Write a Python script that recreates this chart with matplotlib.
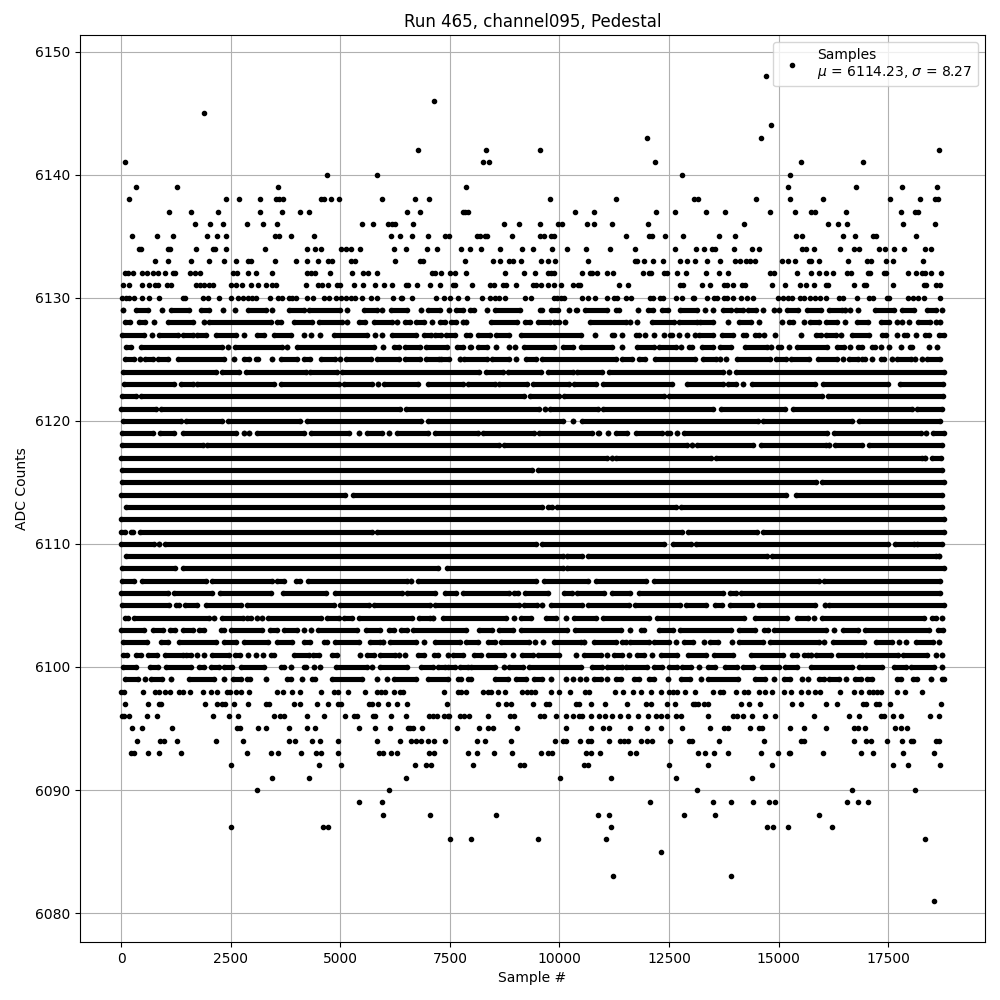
import matplotlib
matplotlib.use("Agg")
import matplotlib.pyplot as plt

title = "Run 465, channel095, Pedestal"
legend_label = "Samples\n$\\mu$ = 6114.23, $\\sigma$ = 8.27"

# isolated samples, sample number per ADC level
samples_6148 = [14704]
samples_6146 = [7136]
samples_6145 = [1880]
samples_6144 = [14818]
samples_6143 = [12003, 14591]
samples_6142 = [6772, 8319, 9547, 18661]
samples_6141 = [83, 8250, 8387, 12184, 15500, 16933]
samples_6140 = [4700, 5837, 12798, 15250]
samples_6139 = [334, 1273, 3585, 7864, 15205, 16774, 17820, 18616]
samples_6138 = [174, 2403, 2698, 3176, 3540, 3608, 3699, 4563, 4631, 4790, 4972, 5950, 6704, 7022, 9774, 11298, 13071, 13162, 14477, 15250, 16023, 17547, 18229, 18570, 18640]
samples_6137 = [1084, 1584, 2221, 3176, 3676, 4086, 4290, 6519, 6818, 7796, 7841, 7909, 10365, 10797, 12207, 12639, 13340, 13772, 14795, 15364, 15750, 15841, 16546, 17797, 18115, 18184]
samples_6136 = [1675, 2016, 2335, 2880, 3244, 3563, 5495, 5746, 6087, 6178, 6246, 6659, 8728, 9069, 9547, 9956, 10047, 10638, 10797, 11207, 12025, 14204, 16137, 16364, 16569, 17843, 18570]
samples_6135 = [243, 811, 1175, 1948, 2198, 2403, 3517, 3608, 3881, 4404, 6155, 6360, 6636, 7000, 7386, 7477, 8114, 8182, 8296, 8357, 8910, 9547, 9638, 9797, 9865, 11525, 12048, 12116, 12412, 12821, 13636, 14000, 15387, 15523, 16478, 16751, 17160, 17213, 18138]
samples_6134 = [402, 447, 1061, 1107, 1698, 2107, 2145, 2403, 3290, 4245, 4419, 4556, 5018, 5132, 5245, 5450, 6223, 6496, 6977, 7204, 7750, 7955, 8205, 8637, 9137, 9387, 9820, 10161, 10615, 11161, 11730, 12639, 13117, 13295, 13476, 13545, 13977, 14386, 14545, 15523, 15614, 15796, 16410, 16728, 16842, 17297, 17425, 17638, 17865, 18343, 18479]
samples_6133 = [781, 1061, 1584, 1994, 2357, 2630, 2903, 2971, 3517, 3995, 4245, 4495, 4722, 4813, 5245, 5336, 6246, 6818, 6886, 7841, 8478, 8637, 8842, 8933, 9115, 9569, 9729, 9888, 10661, 11730, 11775, 11934, 12139, 12366, 12753, 12912, 13094, 13363, 13658, 14000, 14113, 14250, 14340, 14454, 15068, 15205, 15364, 15682, 15750, 15910, 16592, 17024, 17115, 17455, 17615, 18297]
samples_6132 = [99, 167, 280, 470, 584, 720, 849, 993, 1175, 1236, 1561, 1675, 1789, 2562, 2653, 2903, 3085, 3449, 4245, 4336, 4427, 4768, 5268, 5518, 5632, 5837, 7091, 7159, 7295, 7500, 7614, 7864, 8751, 9183, 9433, 9729, 9797, 9865, 10524, 10706, 10752, 10865, 11093, 11229, 11912, 12048, 12093, 12389, 12457, 12685, 12889, 13340, 13636, 13840, 14795, 14886, 15409, 15750, 15932, 16091, 16250, 16570, 16660, 17046, 17092, 17410, 17455, 17956, 18138, 18275, 18343, 18479, 18707]
samples_6131 = [38, 190, 470, 629, 766, 841, 1038, 1129, 1698, 1789, 1880, 1994, 2107, 2517, 2630, 2767, 2971, 3131, 3312, 3449, 3540, 4222, 4495, 4586, 4722, 4927, 4995, 5313, 5518, 5791, 5996, 6178, 6496, 6545, 6750, 7045, 7273, 7568, 7614, 8000, 8410, 8500, 8705, 8773, 9000, 9387, 9456, 9569, 9729, 9865, 10024, 10320, 10433, 10479, 11366, 11570, 12753, 12821, 13250, 13430, 13750, 13818, 13954, 14159, 14227, 14841, 15136, 15477, 15614, 15796, 16091, 16137, 16728, 16955, 17000, 17615, 18320, 18365, 18593, 18684]
samples_6130 = [23, 114, 190, 303, 470, 644, 857, 1402, 1448, 1857, 1971, 2244, 2517, 2676, 2790, 2903, 2994, 3085, 3404, 3585, 3676, 3828, 3904, 3980, 4245, 4374, 4631, 4745, 4904, 5018, 5132, 5245, 5336, 5495, 5700, 5837, 6200, 6382, 6408, 6636, 7182, 7364, 7500, 7682, 7886, 8228, 8410, 8523, 8614, 8750, 9205, 9342, 9865, 9933, 10024, 10115, 10524, 10661, 10820, 11093, 11252, 11320, 11525, 11638, 12070, 12139, 12298, 12366, 12662, 12798, 13049, 13067, 13363, 13522, 13590, 13750, 13818, 13954, 14136, 14272, 14409, 14977, 15091, 15205, 15296, 15477, 15568, 15727, 15819, 15955, 16091, 16387, 16478, 16796, 17069, 17160, 17478, 17524, 17956, 18070, 18184, 18320, 18684]
samples_6098 = [0, 61, 493, 766, 857, 993, 1107, 1311, 1402, 1561, 1857, 2039, 2198, 2426, 2494, 2630, 2744, 2926, 3563, 3699, 3904, 4086, 4563, 4859, 4950, 5177, 5564, 5837, 5928, 6019, 6223, 6360, 6428, 7360, 7680, 7760, 7860, 8250, 8360, 8440, 8590, 8750, 9140, 9270, 9350, 9450, 9800, 10000, 10230, 10580, 10680, 11270, 11440, 11680, 11850, 12090, 12310, 12500, 12590, 12690, 12860, 13100, 13500, 13670, 13740, 14020, 14210, 14300, 14550, 14680, 14860, 15130, 15280, 15510, 15680, 15820, 15950, 16390, 16710, 16890, 17060, 17150, 17250, 17330, 17710, 17890, 18280]
samples_6097 = [83, 606, 857, 902, 1903, 2198, 2312, 2380, 2585, 2903, 3312, 3380, 3949, 4086, 4472, 4722, 4950, 5018, 5655, 5723, 5859, 6087, 6291, 6519, 7430, 8590, 8770, 8890, 9390, 9690, 9770, 10370, 10450, 10730, 11050, 11530, 11980, 12090, 12460, 12640, 13040, 13090, 13150, 13300, 13400, 14140, 14320, 14570, 15300, 15500, 16070, 16340, 16930, 16990, 17230, 17290, 17550, 18710]
samples_6096 = [15, 61, 174, 584, 811, 2107, 2471, 2676, 3494, 3630, 3722, 4245, 4631, 5109, 5313, 5382, 5746, 5791, 6155, 6496, 7020, 7110, 7200, 7360, 7450, 7490, 7730, 7830, 7930, 8360, 8870, 8970, 9550, 9650, 9930, 10160, 10300, 10450, 10510, 10710, 10900, 11050, 11210, 11370, 11570, 11800, 12030, 12210, 12310, 12460, 12660, 12780, 13390, 13950, 14060, 14180, 14390, 14700, 14910, 15800, 16610, 16840, 17340, 17400, 17620, 17800, 18460, 18660]
samples_6095 = [243, 470, 1152, 2653, 2721, 3131, 3312, 3835, 4245, 4427, 5427, 5791, 6132, 6541, 6600, 6670, 6860, 7660, 8160, 8360, 8480, 9020, 10160, 10730, 11000, 11120, 11620, 12000, 12320, 12800, 13430, 13750, 13840, 14340, 14560, 14620, 15270, 15570, 16090, 16710, 16800, 16980, 17660, 17800, 17930]
samples_6094 = [356, 879, 970, 1266, 2175, 2790, 3835, 3972, 4359, 4540, 4950, 5837, 6360, 6620, 6720, 6830, 7000, 7140, 7390, 8110, 8310, 8890, 9890, 10070, 10150, 10480, 10640, 10730, 11140, 11370, 11470, 11570, 11870, 12000, 12120, 12530, 12960, 13030, 13640, 14660, 15520, 15580, 16710, 17000, 17110, 17480, 17820, 18020, 18070, 18580, 18660]
samples_6093 = [235, 303, 606, 857, 1357, 2880, 3426, 3585, 4108, 4450, 4563, 4950, 5882, 5973, 6155, 6291, 7020, 7140, 7910, 8110, 8500, 8910, 9570, 9730, 9840, 10600, 10730, 10930, 11600, 11750, 13160, 13320, 13520, 13840, 14590, 14980, 15230, 15270, 16020, 16890, 17160, 17840, 18550]
samples_6092 = [2517, 4518, 5018, 6700, 6950, 7070, 8020, 9110, 9200, 10550, 10660, 12500, 13400, 14850, 17620, 17960, 18680]
samples_6091 = [3449, 4290, 6496, 10020, 11180, 12660, 14390]
samples_6090 = [3108, 6110, 13140, 16680, 18110]
samples_6089 = [5427, 5950, 12070, 13500, 13910, 14410, 14770, 14910, 16570, 16820, 17050]
samples_6088 = [5973, 7050, 8550, 10890, 11140, 12840, 13540, 15910]
samples_6087 = [2517, 4609, 4722, 11180, 14730, 14870, 15210, 16210]
samples_6086 = [7500, 7980, 9500, 11070, 18340]
samples_6085 = [12320]
samples_6083 = [11230, 13910]
samples_6081 = [18550]

# crowded levels: (first, last) sample of each unbroken run of overlapping dots
spans_6129 = [(50,50),(330,610),(930,930),(1140,1540),(1820,2010),(2330,2330),(2590,2590),(2900,3300),(3450,3450),(3830,4170),(4280,5000),(5150,5150),(5530,5840),(5950,5950),(6160,6520),(6850,6850),(7000,7280),(7480,7480),(7640,7800),(7970,8040),(8350,8350),(8540,9100),(9550,9610),(9810,9960),(10220,10220),(10370,10410),(10590,11090),(11280,11360),(11800,11800),(12010,12130),(12340,12480),(12740,13140),(13310,13310),(13500,13500),(13730,13920),(14030,14180),(14300,14480),(14640,14640),(14890,14890),(15000,15000),(15200,15450),(15640,15960),(16150,16440),(16510,16510),(16620,16620),(16810,16810),(17190,17630),(17820,18090),(18390,18590),(18730,18730)]
spans_6128 = [(80,200),(400,550),(740,760),(1080,1640),(1880,1880),(2010,3430),(3560,3640),(3940,4360),(4510,5040),(5160,5160),(5420,5570),(5760,6180),(6300,6300),(6470,6580),(6730,6900),(7090,7090),(7280,7380),(7530,7640),(7800,7800),(7870,7870),(8440,9020),(9220,9330),(9500,9780),(9880,10000),(10130,10130),(10690,11510),(11620,11620),(11780,11780),(12100,12610),(12720,13140),(13200,13500),(13840,13840),(14090,14370),(14560,14560),(15070,15070),(15230,15320),(15570,15570),(15720,15920),(16080,16340),(16510,16510),(16780,17050),(17330,17520),(17710,17710),(17820,17820),(17970,17970),(18170,18460),(18580,18580),(18680,18680)]
spans_6127 = [(20,530),(700,700),(870,1290),(1400,1630),(1720,1930),(2160,2620),(2810,2810),(3090,3260),(3490,3870),(4180,4180),(4340,4340),(4530,4530),(4850,5610),(5800,5800),(5950,5950),(6190,6720),(6920,7080),(7170,7300),(7420,7610),(7870,7960),(8140,8420),(8550,8860),(9120,10490),(10800,10800),(11190,11240),(11420,11420),(11750,11810),(11950,11950),(12150,12150),(12380,12380),(12520,12570),(12720,12720),(12910,12910),(13090,13090),(13180,13500),(13710,13950),(14180,14260),(14450,14560),(14660,14660),(14910,14910),(15510,15510),(15850,15960),(16080,16300),(16430,16430),(16670,17060),(17350,17440),(17710,17710),(17860,17930),(18140,18140),(18340,18430),(18670,18770)]
spans_6126 = [(110,230),(450,2310),(2430,2430),(2600,3680),(3790,3790),(4020,5760),(5970,5970),(6220,6330),(6480,6810),(6960,7430),(7660,7800),(7950,7990),(8140,8340),(8550,8550),(8840,8840),(8980,8980),(9180,9880),(10070,10300),(10490,11210),(11420,11420),(11780,12150),(12270,12650),(12780,12780),(12950,13030),(13260,13500),(13670,13920),(14240,14730),(14830,14830),(14980,15050),(15230,15230),(15430,16110),(16340,16490),(16620,16620),(16800,16900),(17140,17210),(17330,17330),(17520,17520),(17800,17800),(17990,18050),(18430,18430),(18620,18620)]
spans_6125 = [(90,300),(430,430),(550,720),(830,1080),(1290,2350),(2580,2580),(2800,2920),(3070,3130),(3450,3450),(3640,4020),(4170,4320),(4550,4890),(4990,4990),(5130,5690),(5840,6330),(6480,6810),(6960,7250),(7300,7480),(7720,7720),(7830,8340),(8470,8860),(9010,9010),(9240,9460),(9600,11300),(11430,11660),(11810,11960),(12190,13100),(13270,13580),(13670,13670),(13800,13800),(14040,14800),(14940,15170),(15280,15700),(15890,16340),(16460,16460),(16610,16800),(16900,16970),(17120,17120),(17330,17400),(17580,17580),(17710,18010),(18120,18120),(18270,18270),(18390,18690)]
spans_6124 = [(40,2160),(2300,2690),(2860,4210),(4320,4930),(5040,8170),(8320,8710),(8820,9580),(9730,10300),(10410,10980),(11120,13730),(13860,13860),(14030,18770)]
spans_6123 = [(60,1210),(1360,1630),(1740,3490),(3640,4960),(5080,5720),(5860,5860),(5990,6770),(7000,7800),(7910,8520),(8630,9270),(9390,10220),(10340,10830),(11000,12570),(12910,13730),(13840,14030),(14180,14180),(14390,15830),(16020,17500),(17760,18740)]
spans_6122 = [(20,340),(450,9200),(9330,9990),(10110,12380),(12510,16000),(16130,18740)]
spans_6121 = [(0,800),(910,6370),(6500,9540),(9680,9680),(9780,10870),(11000,13500),(13690,15150),(15330,18050),(18160,18730)]
spans_6120 = [(40,1360),(1480,2310),(2430,4090),(4250,6850),(7000,10070),(10300,10300),(10520,14520),(14650,16680),(16830,18690)]
spans_6119 = [(20,720),(890,1210),(1420,2630),(2800,2800),(2920,2920),(3110,4170),(4340,5190),(5420,5420),(5610,5950),(6100,6100),(6290,7000),(7150,8140),(8250,9430),(9540,10750),(10870,10900),(11110,11110),(11280,11550),(11740,12340),(12460,12530),(12680,12680),(12840,16110),(16270,18240),(18370,18370),(18520,18770)]
spans_6118 = [(20,1860),(1970,8630),(8740,12910),(13030,13030),(13140,14410),(14600,16080),(16150,16150),(16290,16910),(17060,18730)]
spans_6117 = [(0,11090),(11210,11210),(11280,13460),(13570,18270),(18340,18340),(18490,18710)]
spans_6116 = [(20,9370),(9500,18730)]
spans_6115 = [(20,15850),(16000,18770)]
spans_6114 = [(0,5110),(5300,15170),(15390,18730)]
spans_6113 = [(110,9610),(9730,9840),(9950,12650),(12780,18730)]
spans_6112 = [(0,18770)]
spans_6111 = [(0,80),(230,270),(430,5720),(5840,12800),(12930,14500),(14640,18770)]
spans_6110 = [(0,760),(870,870),(990,9460),(9600,12380),(12580,12990),(13120,17500),(17650,18090),(18160,18730)]
spans_6109 = [(110,10070),(10180,10510),(10640,14730),(14850,18590),(18670,18670)]
spans_6108 = [(20,1230),(1400,7230),(7430,10070),(10180,18770)]
spans_6107 = [(20,300),(480,1930),(2080,3450),(3560,3720),(3980,4090),(4260,6520),(6620,6620),(6770,9460),(9650,10660),(10830,11980),(12150,15920),(16040,18690)]
spans_6106 = [(0,1060),(1210,2080),(2250,3410),(3690,4680),(4870,6400),(6520,7150),(7400,7640),(7800,8860),(8970,9050),(9220,9730),(10110,10280),(10410,11020),(11210,11620),(11810,13730),(13880,14030),(14140,18690)]
spans_6105 = [(20,1100),(1250,1310),(1460,1720),(1930,2730),(2880,4850),(5000,5650),(5760,7040),(7150,9080),(9200,9480),(9610,9610),(9800,10520),(10660,11590),(11720,12760),(12880,13350),(13540,13710),(13880,14390),(14560,15830),(16060,16060),(16150,18770)]
spans_6104 = [(80,150),(300,2010),(2110,2110),(2310,2770),(2880,2960),(3110,3110),(3220,3220),(3360,4550),(4700,4960),(5080,5270),(5420,6640),(6790,7040),(7110,7110),(7340,8780),(8960,8960),(9120,9350),(9690,9920),(10160,10160),(10330,10830),(11000,12040),(12230,14220),(14450,15200),(15410,15660),(15810,15810),(15990,18310),(18490,18580),(18730,18730)]
spans_6103 = [(0,530),(720,950),(1110,1240),(1400,1630),(1770,1900),(2270,2350),(2500,3220),(3390,3560),(3710,4020),(4180,4180),(4340,4340),(4500,5380),(5590,5910),(6100,6220),(6390,6520),(6660,7870),(8170,8460),(8610,8950),(9120,10180),(10360,11400),(11610,11610),(11850,11930),(12270,12590),(12760,13920),(14100,14450),(14670,14750),(14900,16080),(16270,16270),(16470,16800),(16970,18430),(18640,18740)]
spans_6102 = [(50,580),(910,1080),(1330,2160),(2350,2620),(2800,3360),(3560,3900),(4170,4320),(4620,4700),(4890,5420),(5680,5910),(5970,5970),(6140,6730),(6920,6920),(7170,7720),(7860,8140),(8360,8520),(8670,9310),(9450,9450),(9630,9630),(9880,10490),(10550,10550),(10790,11280),(11430,11510),(11620,12040),(12150,12490),(12660,12660),(12840,13040),(13290,13290),(13440,13610),(13930,13930),(14090,14640),(14800,15910),(16040,16040),(16240,16950),(17230,17590),(17740,17740),(17910,17910),(18140,18520),(18670,18670)]
spans_6101 = [(40,130),(330,450),(610,810),(990,1400),(1490,1590),(1720,1720),(1900,1900),(2080,2450),(2600,2710),(2900,2900),(3070,3070),(3240,3240),(3410,3490),(3940,4280),(4370,4510),(4800,4930),(5460,5460),(5610,5760),(5910,6250),(6330,6330),(6470,6470),(6770,6920),(7130,7230),(7450,7450),(7580,7800),(8060,8210),(8360,8740),(8930,8930),(9140,9390),(9520,9990),(10370,10370),(10560,10940),(11090,11090),(11240,11420),(11590,11590),(11780,11930),(12120,12120),(12310,12680),(12930,13350),(13530,13950),(14370,15110),(15300,15430),(15580,15660),(15750,15750),(15860,16190),(16360,16910),(16990,17730),(17840,18390),(18580,18580),(18730,18730)]
spans_6100 = [(50,340),(660,830),(1020,1590),(1770,1900),(2050,2240),(2350,2540),(2730,3260),(3640,3710),(3880,3880),(4170,4220),(4400,4400),(4540,4540),(4900,5610),(5720,5720),(5910,6520),(6850,7110),(7230,7380),(7450,7610),(7720,7910),(7990,8520),(8730,8730),(8860,9160),(9300,10490),(10750,10980),(11090,11430),(11510,12000),(12150,12340),(12500,12680),(12800,13010),(13180,13180),(13390,13540),(13770,14050),(14180,14420),(14620,15020),(15150,15430),(15740,16680),(16840,17360),(17630,17900),(18010,18540),(18730,18730)]
spans_6099 = [(83,379),(538,538),(675,925),(1129,1129),(1539,2130),(2357,2357),(2562,2744),(2880,2949),(3312,3312),(3790,3881),(4131,4131),(4359,4427),(4813,5495),(5837,5837),(6064,6064),(6223,6730),(7000,7450),(7680,7760),(7910,7990),(8520,8820),(9010,9240),(9430,9610),(9800,9800),(10150,10150),(10300,10300),(10460,10460),(10600,10600),(10790,10940),(11090,11090),(11280,11400),(11710,11810),(12040,12150),(12480,12480),(12780,12970),(13240,13240),(13390,14070),(14470,14700),(14900,14900),(15130,15270),(15530,15530),(15680,15680),(15910,16040),(16150,16380),(16530,16530),(16750,16870),(17020,17140),(17710,17800),(18070,18160),(18480,18480),(18730,18770)]

sample_rows = [
    (6148, samples_6148), (6146, samples_6146), (6145, samples_6145), (6144, samples_6144),
    (6143, samples_6143), (6142, samples_6142), (6141, samples_6141), (6140, samples_6140),
    (6139, samples_6139), (6138, samples_6138), (6137, samples_6137), (6136, samples_6136),
    (6135, samples_6135), (6134, samples_6134), (6133, samples_6133), (6132, samples_6132),
    (6131, samples_6131), (6130, samples_6130), (6098, samples_6098), (6097, samples_6097),
    (6096, samples_6096), (6095, samples_6095), (6094, samples_6094), (6093, samples_6093),
    (6092, samples_6092), (6091, samples_6091), (6090, samples_6090), (6089, samples_6089),
    (6088, samples_6088), (6087, samples_6087), (6086, samples_6086), (6085, samples_6085),
    (6083, samples_6083), (6081, samples_6081),
]
span_rows = [
    (6129, spans_6129), (6128, spans_6128), (6127, spans_6127), (6126, spans_6126),
    (6125, spans_6125), (6124, spans_6124), (6123, spans_6123), (6122, spans_6122),
    (6121, spans_6121), (6120, spans_6120), (6119, spans_6119), (6118, spans_6118),
    (6117, spans_6117), (6116, spans_6116), (6115, spans_6115), (6114, spans_6114),
    (6113, spans_6113), (6112, spans_6112), (6111, spans_6111), (6110, spans_6110),
    (6109, spans_6109), (6108, spans_6108), (6107, spans_6107), (6106, spans_6106),
    (6105, spans_6105), (6104, spans_6104), (6103, spans_6103), (6102, spans_6102),
    (6101, spans_6101), (6100, spans_6100), (6099, spans_6099),
]

xs = []
ys = []
for level, samples in sample_rows:
    xs += samples
    ys += [level] * len(samples)

fig, ax = plt.subplots(figsize=(10, 10))

for level, spans in span_rows:
    for first, last in spans:
        xs += [first, last]
        ys += [level, level]
    ax.hlines([level] * len(spans), [s[0] for s in spans], [s[1] for s in spans],
              colors="black", linewidth=3.7, zorder=2)

ax.plot(xs, ys, ".", color="black", label=legend_label)

ax.set_title(title)
ax.set_xlabel("Sample #")
ax.set_ylabel("ADC Counts")
ax.legend(loc="upper right")
ax.grid(True)
fig.subplots_adjust(left=0.08, right=0.985, top=0.965, bottom=0.058)
fig.savefig("out.png", dpi=100)
